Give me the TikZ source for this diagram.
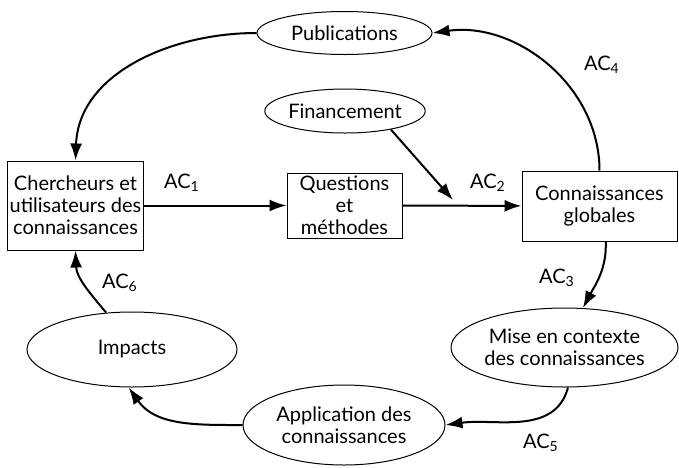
\documentclass[tikz,border=0pt]{standalone}
\usepackage{fontspec}
\setmainfont{Lato}
\usepackage{tikz}
\usetikzlibrary{arrows.meta,shapes,calc,positioning}
\tikzset{
    block/.style = {draw, rectangle, line width=0.5pt, inner sep=1pt, align=center},
    bubble/.style = {draw, ellipse, line width=0.5pt, inner sep=0pt, align=center},
    arrow/.style={draw, line width=1pt, -{Latex[length=8.5pt,width=6pt]}},
    aclabel/.style = {inner sep=0pt}
}
\newcommand{\AC}[1]{AC\textsubscript{#1}}

\begin{document}
\begin{tikzpicture}[x=0.5pt,y=-0.5pt,font=\fontsize{10}{11}\selectfont]
                \useasboundingbox (0,0) rectangle (679,467);
                \node[block,minimum width=62.5pt,minimum height=44.5pt] (cherch) at (75.5,205.5) {Chercheurs et\\utilisateurs des\\connaissances};
                \node[block,minimum width=57.5pt,minimum height=32.5pt] (quest) at (344.5,205.5) {Questions\\et\\méthodes};
                \node[block,minimum width=77.5pt,minimum height=35pt] (connglob) at (599.5,206) {Connaissances\\globales};
                \node[bubble,minimum width=87.5pt,minimum height=21.5pt] (pub) at (344.5,33) {Publications};
                \node[bubble,minimum width=62pt,minimum height=22pt] (finance) at (345,111) {Financement};
                \node[bubble,minimum width=113.5pt,minimum height=39.5pt] (mise) at (564.5,347.5) {Mise en contexte\\des connaissances};
                \node[bubble,minimum width=101pt,minimum height=40pt] (appl) at (344,425) {Application des\\connaissances};
                \node[bubble,minimum width=105pt,minimum height=37.5pt] (imp) at (132,349.5) {Impacts};
                \coordinate (join) at (453,200);
                \node[aclabel] (ac1) at (182,183) {\AC{1}};
                \node[aclabel] (ac2) at (488,183) {\AC{2}};
                \node[aclabel] (ac3) at (557,278) {\AC{3}};
                \node[aclabel] (ac4) at (602,65) {\AC{4}};
                \node[aclabel] (ac5) at (541,443) {\AC{5}};
                \node[aclabel] (ac6) at (120,283) {\AC{6}};
                \draw [arrow] (cherch) -- (quest);
                \draw [arrow] (quest) -- (connglob);
                \draw [arrow] (finance.-22) -- (join);
                \draw [arrow] (connglob.north) to[out=90,in=8] (pub.east);
                \draw [arrow] (pub.west) to[out=180,in=88] (cherch.north);
                \draw [arrow] (connglob.-80) to[out=-88,in=62] (mise.65);
                \draw [arrow] (mise.-85) to[out=-105,in=8] (appl.east);
                \draw [arrow] (appl.west) to[out=180,in=-55] (imp.-95);
                \draw [arrow] (imp.125) to[out=130,in=-88] (cherch.south);
            \end{tikzpicture}
\end{document}
